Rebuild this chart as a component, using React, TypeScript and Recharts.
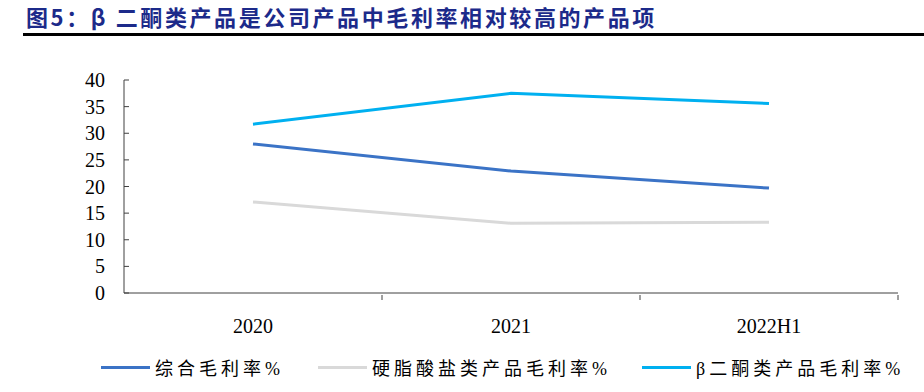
import { LineChart, Line, XAxis, YAxis } from "recharts";

const years = ["2020", "2021", "2022H1"];
const overallMargin = [28.0, 22.9, 19.7];
const stearateMargin = [17.1, 13.1, 13.3];
const diketoneMargin = [31.7, 37.5, 35.6];
const yTicks = [0, 5, 10, 15, 20, 25, 30, 35, 40];

const seriesNames = ["综合毛利率%", "硬脂酸盐类产品毛利率%", "β二酮类产品毛利率%"];
const seriesColors = ["#3b73c6", "#d9d9d9", "#00b0f0"];

const data = years.map((year, i) => ({
  year,
  overall: overallMargin[i],
  stearate: stearateMargin[i],
  diketone: diketoneMargin[i],
}));

const W = 924;
const H = 345;
const PLOT_LEFT = 124;
const PLOT_RIGHT = 898;
const BAND = (PLOT_RIGHT - PLOT_LEFT) / years.length;
const serif = "'Liberation Serif', 'Times New Roman', 'DejaVu Serif', 'Noto Sans CJK SC', serif";

const XTick = (props: any) => {
  const { x, y, payload } = props;
  return (
    <g>
      <line x1={x + BAND / 2} x2={x + BAND / 2} y1={y - 1} y2={y - 6} stroke="#404040" />
      <text x={x} y={y + 32} textAnchor="middle" style={{ fontFamily: serif, fontSize: 20 }} fill="#000">
        {payload.value}
      </text>
    </g>
  );
};

const YTick = (props: any) => {
  const { y, payload } = props;
  return (
    <g>
      <line x1={PLOT_LEFT} x2={PLOT_LEFT + 5} y1={y} y2={y} stroke="#404040" />
      <text x={PLOT_LEFT - 19} y={y + 7} textAnchor="end" style={{ fontFamily: serif, fontSize: 20 }} fill="#000">
        {payload.value}
      </text>
    </g>
  );
};

export default function App() {
  return (
    <div style={{ position: "absolute", left: 0, top: 0, width: W, height: 392, background: "#fff" }}>
      <div
        style={{
          position: "absolute",
          left: 26,
          top: 3,
          fontFamily: "'Noto Sans CJK SC', sans-serif",
          fontWeight: 700,
          fontSize: 22,
          lineHeight: "26px",
          letterSpacing: 2.6,
          color: "#1c2a8a",
          whiteSpace: "nowrap",
        }}
      >
        图5：β 二酮类产品是公司产品中毛利率相对较高的产品项
      </div>
      <div style={{ position: "absolute", left: 23, top: 33, width: W - 23, height: 3, background: "#000" }} />

      <div style={{ position: "absolute", left: 0, top: 0 }}>
        <LineChart width={W} height={H} data={data} margin={{ top: 80, right: W - PLOT_RIGHT, bottom: 22, left: 64 }}>
          <XAxis
            dataKey="year"
            tick={<XTick />}
            tickLine={false}
            axisLine={{ stroke: "#404040" }}
            height={30}
            interval={0}
            padding={{ left: BAND / 2, right: BAND / 2 }}
          />
          <YAxis
            domain={[0, 40]}
            ticks={yTicks}
            tick={<YTick />}
            tickLine={false}
            axisLine={{ stroke: "#404040" }}
            width={60}
            interval={0}
          />
          <Line dataKey="overall" stroke={seriesColors[0]} strokeWidth={3} dot={false} isAnimationActive={false} />
          <Line dataKey="stearate" stroke={seriesColors[1]} strokeWidth={3} dot={false} isAnimationActive={false} />
          <Line dataKey="diketone" stroke={seriesColors[2]} strokeWidth={3} dot={false} isAnimationActive={false} />
        </LineChart>
      </div>

      {seriesNames.map((name, i) => (
        <div
          key={name}
          style={{
            position: "absolute",
            left: [101, 318, 642][i],
            top: 354,
            height: 26,
            display: "flex",
            alignItems: "center",
            fontFamily: serif,
            fontSize: 18,
            letterSpacing: 4,
            color: "#000",
            whiteSpace: "nowrap",
          }}
        >
          <span style={{ display: "inline-block", width: 49, height: 3, background: seriesColors[i], marginRight: 5 }} />
          {name}
        </div>
      ))}
    </div>
  );
}
